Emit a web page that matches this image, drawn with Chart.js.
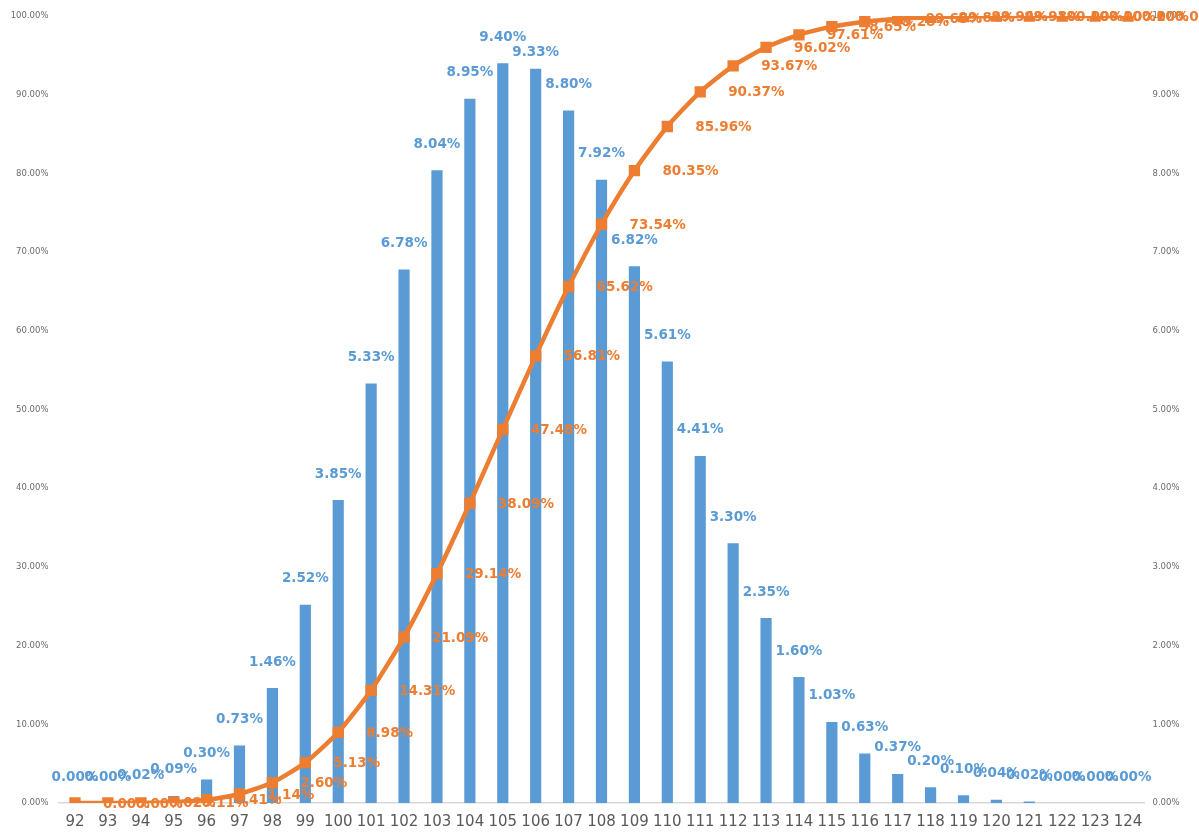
<!DOCTYPE html>
<html>
<head>
<meta charset="utf-8">
<title>Distribution and cumulative share</title>
<script src="https://cdn.jsdelivr.net/npm/chart.js@4/dist/chart.umd.min.js"></script>
<style>
  html, body { margin: 0; padding: 0; background: #ffffff; }
  #wrap { width: 1199px; height: 836px; }
</style>
</head>
<body>
<div id="wrap"><canvas id="chart" width="1199" height="836"></canvas></div>
<script>
// Score values on the horizontal axis
const categories = ['92','93','94','95','96','97','98','99','100','101','102','103','104','105','106','107',
  '108','109','110','111','112','113','114','115','116','117','118','119','120','121','122','123','124'];

// Share of each score, in percent (right axis)
const shareValues = [0.00, 0.00, 0.02, 0.09, 0.30, 0.73, 1.46, 2.52, 3.85, 5.33, 6.78, 8.04, 8.95, 9.40, 9.33, 8.80,
  7.92, 6.82, 5.61, 4.41, 3.30, 2.35, 1.60, 1.03, 0.63, 0.37, 0.20, 0.10, 0.04, 0.02, 0.00, 0.00, 0.00];

// Cumulative share, in percent (left axis)
const cumulativeValues = [0.00, 0.00, 0.02, 0.11, 0.41, 1.14, 2.60, 5.13, 8.98, 14.31, 21.09, 29.14, 38.09, 47.48,
  56.81, 65.62, 73.54, 80.35, 85.96, 90.37, 93.67, 96.02, 97.61, 98.65, 99.28, 99.65, 99.84, 99.94, 99.98,
  100.00, 100.00, 100.00, 100.00];

// Axis tick values
const leftTicks = [0, 10, 20, 30, 40, 50, 60, 70, 80, 90, 100];
const rightTicks = [0, 1, 2, 3, 4, 5, 6, 7, 8, 9, 10];

const BLUE = '#5B9BD5';
const ORANGE = '#ED7D31';
const pct = v => v.toFixed(2) + '%';

// Draws value labels: bar labels above each bar, line labels to the right of each point
const valueLabels = {
  id: 'valueLabels',
  afterDatasetsDraw(chart, args, opts) {
    const ctx = chart.ctx;
    ctx.save();
    ctx.font = 'bold 13.5px "DejaVu Sans"';
    ctx.textBaseline = 'middle';

    const barMeta = chart.getDatasetMeta(1);
    ctx.fillStyle = BLUE;
    ctx.textAlign = 'center';
    barMeta.data.forEach((el, i) => {
      const lift = opts.barLift + (opts.barNudge[i] || 0);
      ctx.fillText(pct(shareValues[i]), el.x, el.y - lift);
    });

    const lineMeta = chart.getDatasetMeta(0);
    ctx.fillStyle = ORANGE;
    ctx.textAlign = 'left';
    lineMeta.data.forEach((el, i) => {
      ctx.fillText(pct(cumulativeValues[i]), el.x + opts.lineGap, el.y + 1);
    });
    ctx.restore();
  }
};

new Chart(document.getElementById('chart'), {
  data: {
    labels: categories,
    datasets: [
      {
        type: 'line',
        label: 'Cumulative',
        data: cumulativeValues,
        yAxisID: 'y',
        borderColor: ORANGE,
        backgroundColor: ORANGE,
        borderWidth: 4.5,
        pointStyle: 'rect',
        pointRadius: 8,
        pointBorderWidth: 0,
        pointBackgroundColor: ORANGE,
        tension: 0.2,
        order: 0
      },
      {
        type: 'bar',
        label: 'Share',
        data: shareValues,
        yAxisID: 'y1',
        backgroundColor: BLUE,
        categoryPercentage: 1,
        barPercentage: 0.34,
        order: 1
      }
    ]
  },
  options: {
    responsive: false,
    animation: false,
    layout: { padding: { top: 16, left: 0, right: 0, bottom: 0 } },
    plugins: {
      legend: { display: false },
      tooltip: { enabled: false },
      valueLabels: { barLift: 26, barNudge: { 14: -10 }, lineGap: 28 }
    },
    scales: {
      x: {
        type: 'category',
        offset: true,
        grid: { display: false, drawTicks: false },
        border: { color: '#d9d9d9', width: 1.5 },
        ticks: { color: '#595959', font: { family: 'DejaVu Sans', size: 15 }, padding: 10, maxRotation: 0, autoSkip: false },
        afterFit(scale) { scale.height = 33; }
      },
      y: {
        position: 'left',
        min: 0,
        max: 100,
        grid: { display: false, drawTicks: false },
        border: { display: false },
        afterBuildTicks(scale) { scale.ticks = leftTicks.map(v => ({ value: v })); },
        ticks: {
          color: '#6b6b6b',
          font: { family: 'DejaVu Sans', size: 8.5 },
          padding: 10,
          callback: v => pct(v)
        },
        afterFit(scale) { scale.width = 58.5; }
      },
      y1: {
        position: 'right',
        min: 0,
        max: 10,
        grid: { display: false, drawTicks: false },
        border: { display: false },
        afterBuildTicks(scale) { scale.ticks = rightTicks.map(v => ({ value: v })); },
        ticks: {
          color: '#6b6b6b',
          font: { family: 'DejaVu Sans', size: 8.5 },
          padding: 8,
          callback: v => pct(v)
        },
        afterFit(scale) { scale.width = 54.5; }
      }
    }
  },
  plugins: [valueLabels]
});
</script>
</body>
</html>
